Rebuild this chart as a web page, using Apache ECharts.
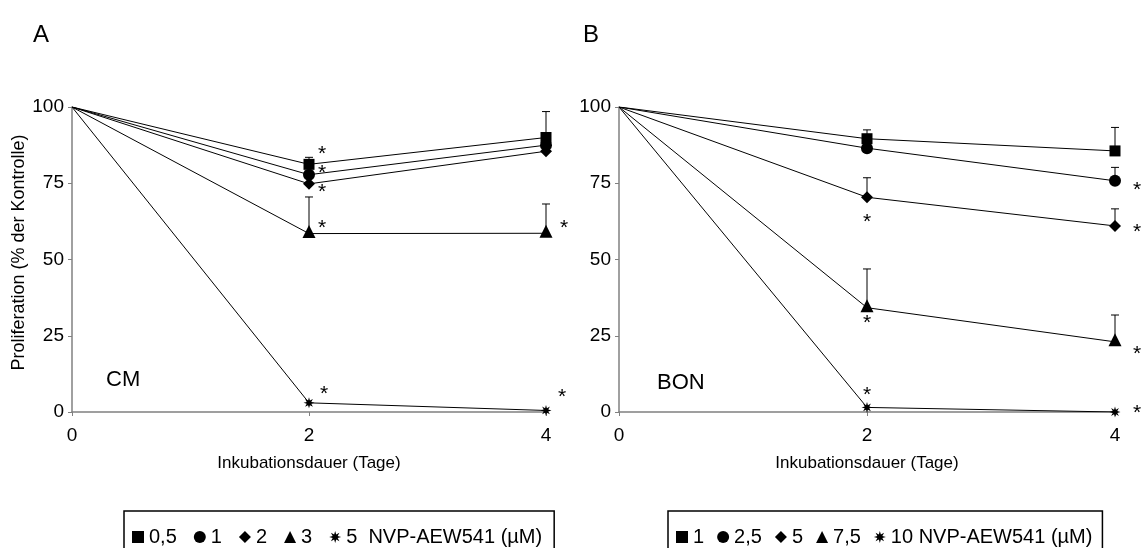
<!DOCTYPE html>
<html>
<head>
<meta charset="utf-8">
<script src="https://cdn.jsdelivr.net/npm/echarts@6/dist/echarts.min.js"></script>
<style>
  html, body { margin: 0; padding: 0; background: #fff; }
  #chart { width: 1145px; height: 548px; }
</style>
</head>
<body>
<div id="chart"></div>
<script>
// Incubation time in days
const days = [0, 2, 4];
const yTicks = [0, 25, 50, 75, 100];

// Panel A: CM cells, concentrations 0.5–5 µM
const cmNames = ['0,5', '1', '2', '3', '5  NVP-AEW541 (µM)'];
const cm05 = [100, 81.2, 90];
const cm1  = [100, 77.8, 87.5];
const cm2  = [100, 74.8, 85.5];
const cm3  = [100, 58.5, 58.6];
const cm5  = [100, 3, 0.5];
// upper ends of the error bars (null = not shown)
const cm05Err = [null, 83.5, 98.5];
const cm1Err  = [null, null, null];
const cm2Err  = [null, null, null];
const cm3Err  = [null, 70.5, 68.2];
const cm5Err  = [null, null, null];
// significance flags (*)
const cm05Sig = [0, 1, 0];
const cm1Sig  = [0, 1, 0];
const cm2Sig  = [0, 1, 0];
const cm3Sig  = [0, 1, 1];
const cm5Sig  = [0, 1, 1];

// Panel B: BON cells, concentrations 1–10 µM
const bonNames = ['1', '2,5', '5', '7,5', '10 NVP-AEW541 (µM)'];
const bon1  = [100, 89.6, 85.6];
const bon25 = [100, 86.5, 75.8];
const bon5  = [100, 70.4, 61];
const bon75 = [100, 34.2, 23];
const bon10 = [100, 1.5, 0];
const bon1Err  = [null, 92.5, 93.3];
const bon25Err = [null, null, 80.2];
const bon5Err  = [null, 76.8, 66.6];
const bon75Err = [null, 46.9, 31.8];
const bon10Err = [null, null, null];
const bon1Sig  = [0, 0, 0];
const bon25Sig = [0, 0, 1];
const bon5Sig  = [0, 1, 1];
const bon75Sig = [0, 1, 1];
const bon10Sig = [0, 1, 1];

// ---- styling ----
const FONT = '"Liberation Sans", Arial, sans-serif';
const STAR = 'path://M10 0 L4.16 1.72 L7.07 7.07 L1.72 4.16 L0 10 L-1.72 4.16 L-7.07 7.07 L-4.16 1.72 L-10 0 L-4.16 -1.72 L-7.07 -7.07 L-1.72 -4.16 L0 -10 L1.72 -4.16 L7.07 -7.07 L4.16 -1.72 Z';
const symbols = ['rect', 'circle', 'diamond', 'triangle', STAR];
const sizes = [11, 12, 12, 13, 11];
const symOffsets = [[0, 0], [0, 0], [0, 0], [0, -2], [0, 0]];

// placement of the "*" relative to each marker, per panel / series / day
const cmStarOffsets = [
  [null, [13, -10], null],
  [null, [13, -2], null],
  [null, [13, 8], null],
  [null, [13, -3], [18, -3]],
  [null, [15, -9], [16, -13]]
];
const bonStarOffsets = [
  [null, null, null],
  [null, null, [22, 9]],
  [null, [0, 25], [22, 6]],
  [null, [0, 18], [22, 14]],
  [null, [0, -12], [22, 1]]
];

function lineSeries(panel, idx, name, values, sig, k, offsets) {
  return {
    type: 'line',
    name: panel + '|' + name,
    xAxisIndex: idx,
    yAxisIndex: idx,
    symbol: symbols[k],
    symbolSize: sizes[k],
    symbolOffset: symOffsets[k],
    lineStyle: { color: '#000', width: 1 },
    itemStyle: { color: '#000' },
    label: { position: 'inside', fontSize: 21, color: '#000', fontFamily: FONT },
    z: 3,
    silent: true,
    data: values.map((v, i) => ({
      value: [days[i], v],
      symbol: i === 0 ? 'none' : symbols[k],
      label: sig[i] ? { show: true, formatter: '*', offset: offsets[i] } : { show: false }
    }))
  };
}

function renderErr(params, api) {
  const x = api.value(0);
  const p0 = api.coord([x, api.value(1)]);
  const p1 = api.coord([x, api.value(2)]);
  const w = 4;
  return {
    type: 'group',
    children: [
      { type: 'line', shape: { x1: p0[0], y1: p0[1], x2: p1[0], y2: p1[1] }, style: { stroke: '#000', lineWidth: 1 } },
      { type: 'line', shape: { x1: p1[0] - w, y1: p1[1], x2: p1[0] + w, y2: p1[1] }, style: { stroke: '#000', lineWidth: 1 } }
    ]
  };
}

function errSeries(idx, pairs) {
  const data = [];
  pairs.forEach(([vals, errs]) => {
    errs.forEach((e, i) => { if (e != null) data.push([days[i], vals[i], e]); });
  });
  return { type: 'custom', xAxisIndex: idx, yAxisIndex: idx, renderItem: renderErr, data, z: 2, silent: true };
}

const cmVals = [cm05, cm1, cm2, cm3, cm5];
const cmErrs = [cm05Err, cm1Err, cm2Err, cm3Err, cm5Err];
const cmSigs = [cm05Sig, cm1Sig, cm2Sig, cm3Sig, cm5Sig];
const bonVals = [bon1, bon25, bon5, bon75, bon10];
const bonErrs = [bon1Err, bon25Err, bon5Err, bon75Err, bon10Err];
const bonSigs = [bon1Sig, bon25Sig, bon5Sig, bon75Sig, bon10Sig];

const series = [
  errSeries(0, cmVals.map((v, k) => [v, cmErrs[k]])),
  errSeries(1, bonVals.map((v, k) => [v, bonErrs[k]])),
  ...cmVals.map((v, k) => lineSeries('A', 0, cmNames[k], v, cmSigs[k], k, cmStarOffsets[k])),
  ...bonVals.map((v, k) => lineSeries('B', 1, bonNames[k], v, bonSigs[k], k, bonStarOffsets[k]))
];

function xAxis(idx) {
  return {
    type: 'value', gridIndex: idx, min: days[0], max: days[days.length - 1], interval: 2,
    name: 'Inkubationsdauer (Tage)', nameLocation: 'middle', nameGap: 43,
    nameTextStyle: { fontSize: 17, color: '#000', fontFamily: FONT },
    axisLine: { lineStyle: { color: '#808080', width: 1.5 } },
    axisTick: { length: 4, lineStyle: { color: '#808080' } },
    axisLabel: { fontSize: 19, color: '#000', fontFamily: FONT, margin: 14 },
    splitLine: { show: false }
  };
}
function yAxis(idx, withName) {
  return {
    type: 'value', gridIndex: idx, min: yTicks[0], max: yTicks[yTicks.length - 1], interval: 25,
    name: withName ? 'Proliferation (% der Kontrolle)' : '',
    nameLocation: 'middle', nameGap: 35,
    nameTextStyle: { fontSize: 18, color: '#000', fontFamily: FONT, padding: [0, 0, 0, 14] },
    axisLine: { show: true, lineStyle: { color: '#808080', width: 1.5 } },
    axisTick: { show: true, length: 4, lineStyle: { color: '#808080' } },
    axisLabel: { fontSize: 19, color: '#000', fontFamily: FONT, margin: 8 },
    splitLine: { show: false }
  };
}

function legend(panel, names, left, gap, pad) {
  return {
    left: left, top: 511, orient: 'horizontal', selectedMode: false,
    itemWidth: 12, itemHeight: 12, itemGap: gap,
    padding: pad,
    borderColor: '#000', borderWidth: 1.5, borderRadius: 0,
    textStyle: { fontSize: 20, color: '#000', fontFamily: FONT },
    formatter: n => n.split('|')[1],
    data: names.map((n, i) => ({ name: panel + '|' + n, icon: symbols[i], itemStyle: { color: '#000' } }))
  };
}

const chart = echarts.init(document.getElementById('chart'), null, { renderer: 'canvas' });
chart.setOption({
  animation: false,
  backgroundColor: '#fff',
  grid: [
    { left: 72, top: 107, width: 474, height: 305 },
    { left: 619, top: 107, width: 496, height: 305 }
  ],
  xAxis: [xAxis(0), xAxis(1)],
  yAxis: [yAxis(0, true), yAxis(1, false)],
  legend: [
    legend('A', cmNames, 124, 17, [16, 12, 15, 8]),
    legend('B', bonNames, 668, 13, [16, 10, 15, 8])
  ],
  graphic: [
    { type: 'text', left: 33, top: 23, style: { text: 'A', fontSize: 24, fill: '#000', fontFamily: FONT } },
    { type: 'text', left: 583, top: 23, style: { text: 'B', fontSize: 24, fill: '#000', fontFamily: FONT } },
    { type: 'text', left: 106, top: 369, style: { text: 'CM', fontSize: 22, fill: '#000', fontFamily: FONT } },
    { type: 'text', left: 657, top: 372, style: { text: 'BON', fontSize: 22, fill: '#000', fontFamily: FONT } }
  ],
  series: series
});
</script>
</body>
</html>
